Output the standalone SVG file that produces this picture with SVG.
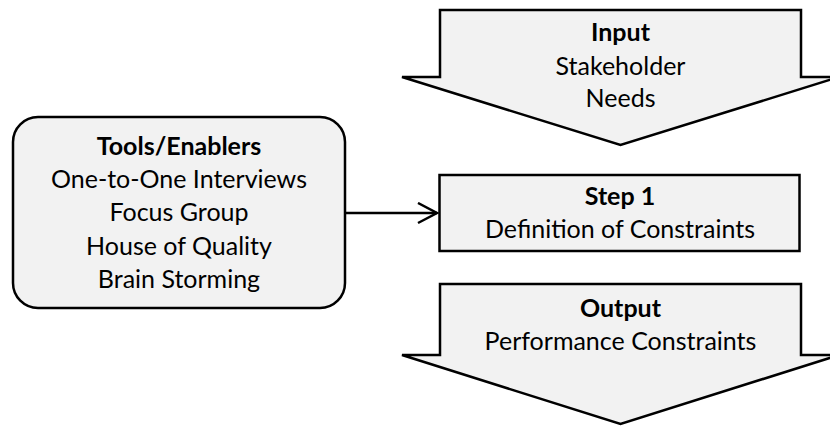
<svg xmlns="http://www.w3.org/2000/svg" width="830" height="426" viewBox="0 0 830 426">
  <defs>
    <style>
      .shape { fill: #f2f2f2; stroke: #000; stroke-width: 2.5; stroke-linejoin: miter; }
      .txt { font-family: Lato, "Open Sans", "Liberation Sans", sans-serif; font-size: 25px; fill: #000; text-anchor: middle; }
      .b { font-weight: bold; }
      .conn { fill: none; stroke: #000; stroke-width: 2.5; }
    </style>
    <marker id="chevron" markerUnits="userSpaceOnUse" markerWidth="24" markerHeight="26" refX="20" refY="11" orient="auto" viewBox="0 0 24 26">
      <polyline points="1,1 20,11 1,21" fill="none" stroke="#000" stroke-width="2.5"/>
    </marker>
  </defs>
  <rect width="830" height="426" fill="#fff"/>

  <g id="input">
    <polygon class="shape" points="440,10 801,10 801,77 839,77 620.5,145 402,77 440,77"/>
    <text class="txt b" x="620.5" y="41">Input</text>
    <text class="txt" x="620.5" y="75">Stakeholder</text>
    <text class="txt" x="620.5" y="107">Needs</text>
  </g>

  <g id="tools">
    <rect class="shape" x="13" y="117" width="332" height="191" rx="25" ry="25"/>
    <text class="txt b" x="179" y="155">Tools/Enablers</text>
    <text class="txt" x="179" y="188">One-to-One Interviews</text>
    <text class="txt" x="179" y="221">Focus Group</text>
    <text class="txt" x="179" y="255">House of Quality</text>
    <text class="txt" x="179" y="288">Brain Storming</text>
  </g>

  <g id="step1">
    <rect class="shape" x="439.5" y="175" width="360" height="76"/>
    <text class="txt b" x="620" y="205">Step 1</text>
    <text class="txt" x="620" y="238">Definition of Constraints</text>
  </g>

  <g id="output">
    <polygon class="shape" points="440,284 801,284 801,355 839,355 620.5,424 402,355 440,355"/>
    <text class="txt b" x="620.5" y="317">Output</text>
    <text class="txt" x="620.5" y="350">Performance Constraints</text>
  </g>

  <g id="connectors">
    <line class="conn" x1="345" y1="213" x2="437" y2="213" marker-end="url(#chevron)"/>
  </g>
</svg>
